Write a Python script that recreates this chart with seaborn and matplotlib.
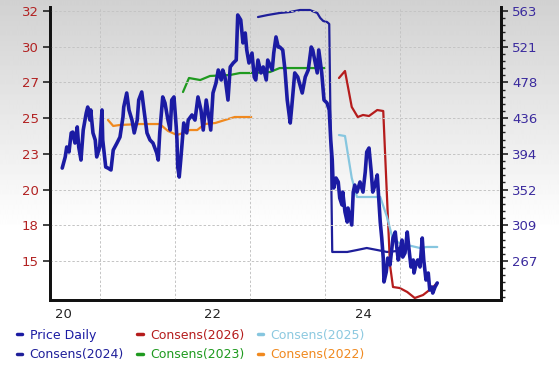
import numpy as np
import pandas as pd
import matplotlib
matplotlib.use("Agg")
import matplotlib.pyplot as plt
import seaborn as sns
from matplotlib.lines import Line2D
from matplotlib.ticker import FixedLocator, AutoMinorLocator

# ---- data (decimal years, values) ----
price_t = [2019.99, 2020.03, 2020.05, 2020.08, 2020.11, 2020.13, 2020.16, 2020.19, 2020.21, 2020.24,
           2020.27, 2020.31, 2020.33, 2020.36, 2020.37, 2020.40, 2020.43, 2020.45, 2020.49, 2020.52,
           2020.53, 2020.57, 2020.60, 2020.64, 2020.67, 2020.72, 2020.76, 2020.80, 2020.81, 2020.85,
           2020.88, 2020.92, 2020.95, 2020.99, 2021.01, 2021.05, 2021.08, 2021.12, 2021.16, 2021.20,
           2021.25, 2021.27, 2021.29, 2021.33, 2021.36, 2021.40, 2021.43, 2021.45, 2021.48, 2021.51,
           2021.52, 2021.53, 2021.55, 2021.57, 2021.60, 2021.61, 2021.65, 2021.67, 2021.72, 2021.76,
           2021.80, 2021.84, 2021.87, 2021.91, 2021.93, 2021.97, 2022.00, 2022.04, 2022.07, 2022.11,
           2022.13, 2022.16, 2022.20, 2022.23, 2022.27, 2022.31, 2022.33, 2022.37, 2022.40, 2022.43,
           2022.45, 2022.48, 2022.52, 2022.55, 2022.57, 2022.60, 2022.64, 2022.67, 2022.71, 2022.73,
           2022.79, 2022.81, 2022.84, 2022.87, 2022.89, 2022.93, 2022.96, 2022.99, 2023.03, 2023.05,
           2023.09, 2023.13, 2023.19, 2023.23, 2023.27, 2023.31, 2023.33, 2023.39, 2023.41, 2023.45,
           2023.48, 2023.52, 2023.55, 2023.57, 2023.59, 2023.60, 2023.61, 2023.64, 2023.67, 2023.69,
           2023.72, 2023.73, 2023.76, 2023.79, 2023.80, 2023.83, 2023.85, 2023.87, 2023.89, 2023.92,
           2023.96, 2024.00, 2024.03, 2024.05, 2024.08, 2024.11, 2024.13, 2024.16, 2024.19, 2024.21,
           2024.23, 2024.25, 2024.27, 2024.28, 2024.31, 2024.33, 2024.36, 2024.40, 2024.43, 2024.45,
           2024.47, 2024.49, 2024.52, 2024.53, 2024.56, 2024.59, 2024.61, 2024.64, 2024.67, 2024.68,
           2024.71, 2024.73, 2024.76, 2024.79, 2024.81, 2024.84, 2024.87, 2024.89, 2024.92, 2024.93,
           2024.96, 2024.99]
price_v = [21.55, 22.31, 22.99, 22.65, 23.95, 24.01, 23.26, 24.36, 22.99, 22.10,
           24.15, 25.31, 25.72, 24.83, 25.52, 23.95, 23.47, 22.31, 22.99, 25.52,
           23.47, 21.62, 21.55, 21.42, 22.78, 23.26, 23.67, 25.04, 25.72, 26.68,
           25.52, 24.83, 23.95, 24.83, 26.20, 26.75, 25.52, 23.95, 23.47, 23.26,
           22.58, 22.10, 23.95, 26.41, 26.00, 24.83, 24.15, 26.20, 26.41, 24.36,
           23.47, 21.62, 20.94, 22.10, 23.95, 24.63, 23.95, 24.83, 25.18, 24.83,
           26.41, 25.52, 24.15, 26.20, 25.52, 24.15, 26.68, 27.36, 28.25, 27.57,
           28.25, 27.77, 26.20, 28.46, 28.73, 28.93, 32.01, 31.67, 30.10, 30.78,
           29.62, 28.73, 29.41, 27.77, 27.57, 28.93, 28.05, 28.46, 27.57, 28.93,
           28.25, 29.41, 30.51, 29.82, 29.82, 29.62, 28.25, 26.20, 24.63, 25.72,
           28.05, 27.77, 26.68, 27.77, 28.25, 29.82, 29.62, 28.05, 29.62, 28.05,
           26.20, 26.00, 25.52, 23.47, 22.10, 20.73, 20.19, 20.87, 20.60, 19.50,
           19.03, 19.91, 18.55, 17.86, 18.82, 18.14, 17.66, 19.91, 20.39, 19.91,
           20.60, 19.91, 21.28, 22.65, 22.92, 21.28, 19.91, 20.39, 21.08, 19.50,
           17.86, 16.77, 15.40, 13.77, 14.45, 15.40, 14.93, 16.77, 17.18, 16.16,
           15.27, 15.75, 16.63, 15.47, 15.75, 17.18, 16.16, 14.79, 15.27, 14.38,
           15.06, 15.27, 14.79, 16.77, 15.27, 13.90, 14.38, 13.22, 13.42, 13.01,
           13.42, 13.70]

c2024_t = [2022.60, 2022.73, 2022.89, 2023.03, 2023.16, 2023.29, 2023.39, 2023.43, 2023.47, 2023.52,
           2023.55, 2023.57, 2023.59, 2023.79, 2023.92, 2024.05, 2024.19, 2024.32, 2024.45, 2024.48]
c2024_v = [555.9, 558.3, 560.7, 561.9, 564.2, 564.2, 560.7, 554.8, 551.2, 550.0,
           547.7, 410.3, 277.7, 277.7, 280.0, 282.4, 280.0, 277.7, 278.8, 282.4]

c2023_t = [2021.60, 2021.68, 2021.83, 2021.96, 2022.23, 2022.36, 2022.49, 2022.76, 2022.89, 2023.49]
c2023_v = [467.1, 483.7, 481.3, 486.1, 487.3, 489.6, 489.6, 490.8, 495.5, 495.5]

c2022_t = [2020.60, 2020.67, 2020.76, 2021.03, 2021.29, 2021.40, 2021.52, 2021.60, 2021.69, 2021.79,
           2021.89, 2022.03, 2022.16, 2022.29, 2022.51]
c2022_v = [434.0, 426.9, 428.1, 429.2, 429.2, 421.0, 416.2, 418.6, 422.1, 422.1,
           429.2, 430.4, 434.0, 437.5, 437.5]

c2026_t = [2023.68, 2023.76, 2023.80, 2023.85, 2023.93, 2024.00, 2024.08, 2024.19, 2024.27, 2024.31,
           2024.36, 2024.40, 2024.49, 2024.59, 2024.69, 2024.80, 2024.92, 2024.99]
c2026_v = [483.7, 492.0, 473.1, 449.4, 437.5, 439.9, 438.7, 445.8, 444.6, 362.9,
           262.3, 236.2, 235.0, 230.3, 223.2, 226.7, 235.0, 240.9]

c2025_t = [2023.68, 2023.76, 2023.85, 2023.92, 2024.05, 2024.23, 2024.32, 2024.40, 2024.49, 2024.59,
           2024.76, 2024.85, 2024.99]
c2025_v = [416.2, 415.0, 365.3, 342.8, 342.8, 342.8, 319.1, 291.9, 288.3, 285.9,
           282.4, 283.6, 283.6]

left_ticks = [15.2 + 2.44 * k for k in range(8)]
left_labels = ["15", "18", "20", "23", "25", "27", "30", "32"]
right_ticks = [267 + 42.286 * k for k in range(8)]
right_labels = ["267", "309", "352", "394", "436", "478", "521", "563"]
x_ticks = [2020, 2022, 2024]
x_labels = ["20", "22", "24"]

# ---- style ----
sns.set_style("white")
plt.rcParams['font.family'] = ['DejaVu Sans']

col_price = '#1b1ba3'
col_2024 = '#1f1f9a'
col_2026 = '#b51c1c'
col_2025 = '#86c6df'
col_2023 = '#1f9a1f'
col_2022 = '#f0891f'

fig = plt.figure(figsize=(5.59, 3.74), dpi=100)

# gray-to-white background gradient
bg = fig.add_axes([0, 0, 1, 1], zorder=-5)
grad = np.concatenate([np.linspace(0.82, 1.0, 230), np.ones(144)])[:, None]
bg.imshow(np.repeat(grad, 2, axis=1), cmap='gray', vmin=0, vmax=1, aspect='auto',
          extent=[0, 1, 0, 1], origin='upper')
bg.axis('off')

ax = fig.add_axes([50 / 559, 1 - 300 / 374, 451 / 559, 293 / 374])
ax.set_facecolor('none')
ax2 = ax.twinx()

sns.lineplot(x=price_t, y=price_v, ax=ax, color=col_price, linewidth=2.6, zorder=3)
sns.lineplot(x=c2024_t, y=c2024_v, ax=ax2, color=col_2024, linewidth=1.6, sort=False)
sns.lineplot(x=c2023_t, y=c2023_v, ax=ax2, color=col_2023, linewidth=1.6, sort=False)
sns.lineplot(x=c2022_t, y=c2022_v, ax=ax2, color=col_2022, linewidth=1.6, sort=False)
sns.lineplot(x=c2026_t, y=c2026_v, ax=ax2, color=col_2026, linewidth=1.6, sort=False)
sns.lineplot(x=c2025_t, y=c2025_v, ax=ax2, color=col_2025, linewidth=1.6, sort=False)

# price on top of consensus lines
ax.set_zorder(ax2.get_zorder() + 1)
ax.patch.set_visible(False)

a, b = 1.092, 7.113
ax.set_ylim(15.2 - a * 2.44, 15.2 + b * 2.44)
ax2.set_ylim(267 - a * 42.286, 267 + b * 42.286)
ax.set_xlim(2019.827, 2025.84)

ax.yaxis.set_major_locator(FixedLocator(left_ticks))
ax.set_yticklabels(left_labels)
ax2.yaxis.set_major_locator(FixedLocator(right_ticks))
ax2.set_yticklabels(right_labels)
ax2.yaxis.set_minor_locator(AutoMinorLocator(5))
ax.xaxis.set_major_locator(FixedLocator(x_ticks))
ax.set_xticklabels(x_labels)
ax.xaxis.set_minor_locator(FixedLocator([2020.5, 2021.5, 2022.5, 2023.5, 2024.5]))

ax.tick_params(axis='y', colors='#222222', labelcolor='#b22222', labelsize=9.5,
               length=5, width=1.2, direction='out', pad=3, left=True)
ax2.tick_params(axis='y', which='major', colors='#222222', labelcolor='#3b2b9e',
                labelsize=9.5, length=5, width=1.2, pad=3)
ax2.tick_params(axis='y', which='minor', colors='#222222', length=3, width=1.0)
ax.tick_params(axis='x', which='both', length=0, labelsize=9.5, labelcolor='#222222', pad=6)

ax.grid(False)
ax2.grid(False)
ax.yaxis.grid(True, color='#c4c4c4', linestyle=(0, (2.5, 2)), linewidth=0.7)
ax.xaxis.grid(True, which='minor', color='#c4c4c4', linestyle=(0, (2.5, 2)), linewidth=0.7)
ax.set_axisbelow(True)

for a_ in (ax, ax2):
    a_.spines['top'].set_visible(False)
    for s in ('left', 'right', 'bottom'):
        a_.spines[s].set_color('#111111')
        a_.spines[s].set_linewidth(2)
ax.set_xlabel('')
ax.set_ylabel('')
ax2.set_ylabel('')

handles = [Line2D([], [], color=c, linewidth=2.5) for c in
           (col_price, col_2024, col_2026, col_2023, col_2025, col_2022)]
labels = ['Price Daily', 'Consens(2024)', 'Consens(2026)', 'Consens(2023)',
          'Consens(2025)', 'Consens(2022)']
fig.legend(handles, labels, loc='upper left', bbox_to_anchor=(0.014, 0.145), ncol=3,
           frameon=False, handlelength=0.45, handletextpad=0.6, columnspacing=1.05,
           labelspacing=0.55, fontsize=9, borderpad=0.2,
           labelcolor=[col_price, col_2024, col_2026, col_2023, '#8cc9e0', col_2022])

fig.savefig('out.png', dpi=100)
